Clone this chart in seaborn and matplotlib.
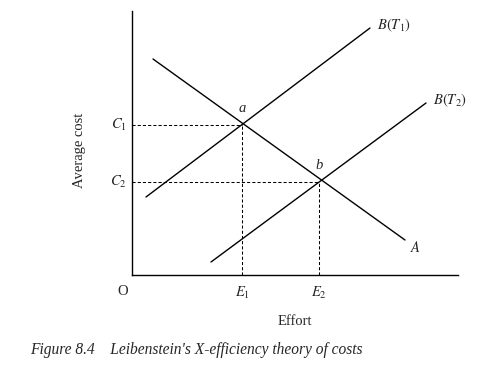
import matplotlib
matplotlib.use("Agg")
import pandas as pd
import seaborn as sns
import matplotlib.pyplot as plt

# line endpoints (effort, average cost), origin at O
a_x = [21, 273]
a_y = [216, 35]
bt1_x = [14, 238]
bt1_y = [78, 247]
bt2_x = [79, 294]
bt2_y = [13, 172]

# equilibrium points a and b
effort = [110, 187]
cost = [150, 93]
point_labels = ["a", "b"]
effort_ticks = ["$E_1$", "$E_2$"]
cost_ticks = ["$C_1$", "$C_2$"]

curves = pd.concat([
    pd.DataFrame({"effort": a_x, "cost": a_y, "curve": "A"}),
    pd.DataFrame({"effort": bt1_x, "cost": bt1_y, "curve": "B(T1)"}),
    pd.DataFrame({"effort": bt2_x, "cost": bt2_y, "curve": "B(T2)"}),
])

sns.set_style("white")
plt.rcParams["font.family"] = ["Liberation Serif", "DejaVu Serif"]
plt.rcParams["mathtext.fontset"] = "stix"
fs = 10.5

fig = plt.figure(figsize=(4.81, 3.66), dpi=100)
ax = fig.add_axes([132 / 481, 91 / 366, 326 / 481, 264 / 366])

sns.lineplot(data=curves, x="effort", y="cost", units="curve", estimator=None,
             sort=False, color="black", lw=1.0, ax=ax)

for e, c in zip(effort, cost):
    ax.plot([0, e], [c, c], color="black", ls=(0, (3, 2)), lw=0.75)
    ax.plot([e, e], [0, c], color="black", ls=(0, (3, 2)), lw=0.75)

ax.set_xlim(0, 326)
ax.set_ylim(0, 264)
ax.set_xticks([])
ax.set_yticks([])
ax.set_xlabel("")
ax.set_ylabel("")
for s in ["top", "right"]:
    ax.spines[s].set_visible(False)
for s in ["left", "bottom"]:
    ax.spines[s].set_color("black")
    ax.spines[s].set_linewidth(1.0)

# curve names
ax.text(bt1_x[1] + 7, bt1_y[1] + 3, "$B(T_1)$", fontsize=fs, va="center", ha="left")
ax.text(bt2_x[1] + 7, bt2_y[1] + 3, "$B(T_2)$", fontsize=fs, va="center", ha="left")
ax.text(a_x[1] + 5, a_y[1] - 8, "$A$", fontsize=fs, va="center", ha="left")

for e, c, lab in zip(effort, cost, point_labels):
    ax.text(e, c + 10, lab, fontsize=fs, style="italic", ha="center", va="bottom")

for e, lab in zip(effort, effort_ticks):
    ax.text(e, -10, lab, fontsize=fs, ha="center", va="top")
for c, lab in zip(cost, cost_ticks):
    ax.text(-5, c, lab, fontsize=fs, ha="right", va="center")
ax.text(-9, -10, "O", fontsize=fs, ha="center", va="top")

ax.text(163, -40, "Effort", fontsize=fs, ha="center", va="top")
ax.text(-52, 125, "Average cost", fontsize=fs, ha="center", va="center", rotation=90)

fig.text(30 / 481, 1 - 350 / 366, "Figure 8.4    Leibenstein's X-efficiency theory of costs",
         fontsize=11.2, style="italic", ha="left", va="center")

fig.savefig("out.png", dpi=100)
